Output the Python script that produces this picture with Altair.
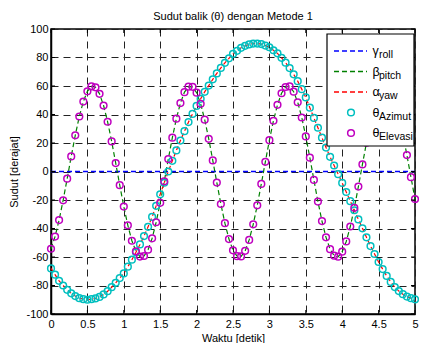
import altair as alt
import pandas as pd

# ---- data ----
t = [0, 0.0556, 0.1111, 0.1667, 0.2222, 0.2778, 0.3333, 0.3889, 0.4444, 0.5,
     0.5556, 0.6111, 0.6667, 0.7222, 0.7778, 0.8333, 0.8889, 0.9444, 1.0,
     1.0556, 1.1111, 1.1667, 1.2222, 1.2778, 1.3333, 1.3889, 1.4444, 1.5,
     1.5556, 1.6111, 1.6667, 1.7222, 1.7778, 1.8333, 1.8889, 1.9444, 2.0,
     2.0556, 2.1111, 2.1667, 2.2222, 2.2778, 2.3333, 2.3889, 2.4444, 2.5,
     2.5556, 2.6111, 2.6667, 2.7222, 2.7778, 2.8333, 2.8889, 2.9444, 3.0,
     3.0556, 3.1111, 3.1667, 3.2222, 3.2778, 3.3333, 3.3889, 3.4444, 3.5,
     3.5556, 3.6111, 3.6667, 3.7222, 3.7778, 3.8333, 3.8889, 3.9444, 4.0,
     4.0556, 4.1111, 4.1667, 4.2222, 4.2778, 4.3333, 4.3889, 4.4444, 4.5,
     4.5556, 4.6111, 4.6667, 4.7222, 4.7778, 4.8333, 4.8889, 4.9444, 5.0]

elevasi = [-54.2, -45.7, -34.1, -20.2, -5.0, 10.6, 25.4, 38.6, 49.1, 56.3,
           59.7, 59.1, 54.5, 46.3, 34.9, 21.1, 5.9, -9.6, -24.6,
           -37.8, -48.6, -56.0, -59.7, -59.3, -54.9, -46.9, -35.6, -22.0,
           -6.9, 8.7, 23.7, 37.1, 48.0, 55.7, 59.5, 59.4, 55.3,
           47.5, 36.4, 22.9, 7.8, -7.8, -22.8, -36.3, -47.4, -55.3,
           -59.4, -59.6, -55.7, -48.0, -37.1, -23.7, -8.7, 6.8, 22.0,
           35.6, 46.8, 54.9, 59.3, 59.7, 56.0, 48.6, 37.9, 24.6,
           9.7, -5.9, -21.1, -34.8, -46.2, -54.5, -59.1, -59.8, -56.3,
           -49.1, -38.6, -25.5, -10.6, 5.0, 20.2, 34.1, 45.6, 54.1,
           59.0, 59.8, 56.7, 49.7, 39.3, 26.3, 11.5, -4.0, -19.3]

azimut = [-68.0, -72.4, -76.7, -80.0, -83.0, -85.5, -87.4, -88.9, -89.6, -90.0,
          -89.6, -89.1, -88.0, -86.3, -84.0, -81.2, -78.1, -74.8, -71.5,
          -66.8, -61.9, -56.7, -51.2, -45.3, -38.8, -31.9, -24.1, -16.0,
          -7.9, 0.0, 7.5, 14.8, 21.7, 28.3, 34.7, 40.4, 46.0,
          51.0, 55.9, 60.3, 64.7, 68.8, 72.7, 76.3, 79.4, 82.5,
          84.7, 86.8, 88.2, 89.2, 89.8, 89.8, 89.4, 88.4, 87.2,
          85.1, 82.9, 79.8, 76.4, 72.6, 68.2, 63.4, 57.8, 52.0,
          44.8, 37.6, 30.7, 23.7, 16.8, 10.3, 4.2, -1.9, -8.0,
          -14.4, -20.8, -27.2, -33.6, -39.9, -46.2, -52.3, -57.9, -63.5,
          -68.5, -73.3, -77.5, -81.1, -83.9, -86.1, -87.8, -88.9, -89.7]

roll = [0.0] * len(t)
pitch = elevasi
yaw = azimut

x_ticks = [0, 0.5, 1, 1.5, 2, 2.5, 3, 3.5, 4, 4.5, 5]
y_ticks = [-100, -80, -60, -40, -20, 0, 20, 40, 60, 80, 100]

legend_main = ["γ", "β", "α", "θ", "θ"]
legend_sub = ["roll", "pitch", "yaw", "Azimut", "Elevasi"]
legend_kind = ["line", "line", "line", "point", "point"]
legend_color = ["#0000FF", "#008000", "#FF0000", "#00BFBF", "#BF00BF"]

FONT = "Liberation Sans"
W, H = 364, 285

df = pd.DataFrame({"t": t, "az": azimut, "el": elevasi,
                   "roll": roll, "pitch": pitch, "yaw": yaw})
dfx = pd.DataFrame({"v": x_ticks})
dfy = pd.DataFrame({"v": y_ticks})

xs = alt.Scale(domain=[0, 5], nice=False, zero=False)
ys = alt.Scale(domain=[-100, 100], nice=False)

common = dict(grid=True, gridDash=[7, 5], gridColor="#222222", gridWidth=1,
              ticks=False, domain=True, domainColor="black", domainWidth=1.5,
              labelFont=FONT, titleFont=FONT, labelFontSize=11, titleFontSize=11,
              labelColor="black", titleColor="black", titleFontWeight="normal",
              labelExpr="'' + datum.value", labelOverlap=False, labelFlush=False)

x_axis = alt.Axis(values=x_ticks, title="Waktu [detik]",
                  labelPadding=4, titlePadding=3, **common)
y_axis = alt.Axis(values=y_ticks, title="Sudut [derajat]",
                  labelPadding=3, titlePadding=6, **common)


def X(field):
    return alt.X(field, type="quantitative", scale=xs, axis=x_axis)


def Y(field):
    return alt.Y(field, type="quantitative", scale=ys, axis=y_axis)


base = alt.Chart(df)

roll_line = base.mark_line(color="#0000FF", strokeDash=[5, 3], strokeWidth=1.5).encode(
    x=X("t"), y=Y("roll"))
pitch_line = base.mark_line(color="#008000", strokeDash=[5, 3], strokeWidth=1.2).encode(
    x=X("t"), y=Y("pitch"))
yaw_line = base.mark_line(color="#FF0000", strokeDash=[4, 3], strokeWidth=1.2).encode(
    x=X("t"), y=Y("yaw"))
az_pts = base.mark_point(shape="circle", filled=False, size=45, strokeWidth=1.5,
                         color="#00BFBF", opacity=1).encode(x=X("t"), y=Y("az"))
el_pts = base.mark_point(shape="circle", filled=False, size=45, strokeWidth=1.5,
                         color="#BF00BF", opacity=1).encode(x=X("t"), y=Y("el"))

# inward ticks (MATLAB style)
tick_layers = [
    alt.Chart(dfx).mark_rule(color="black", strokeWidth=1).encode(
        x=X("v"), y=alt.value(H), y2=alt.value(H - 4)),
    alt.Chart(dfx).mark_rule(color="black", strokeWidth=1).encode(
        x=X("v"), y=alt.value(0), y2=alt.value(4)),
    alt.Chart(dfy).mark_rule(color="black", strokeWidth=1).encode(
        y=Y("v"), x=alt.value(0), x2=alt.value(4)),
    alt.Chart(dfy).mark_rule(color="black", strokeWidth=1).encode(
        y=Y("v"), x=alt.value(W), x2=alt.value(W - 4)),
]

# manual legend with subscripts
one = alt.Data(values=[{"k": 1}])
LX = W - 88
leg_layers = [
    alt.Chart(one).mark_rect(fill="white", stroke="black", strokeWidth=1.2).encode(
        x=alt.value(LX), x2=alt.value(W - 1), y=alt.value(5), y2=alt.value(117))
]
for i in range(5):
    yc = 22 + 20.5 * i
    if legend_kind[i] == "line":
        leg_layers.append(
            alt.Chart(one).mark_rule(color=legend_color[i], strokeDash=[5, 3],
                                     strokeWidth=1.5).encode(
                x=alt.value(LX + 7), x2=alt.value(LX + 40), y=alt.value(yc)))
    else:
        leg_layers.append(
            alt.Chart(one).mark_point(shape="circle", filled=False, size=45,
                                      strokeWidth=1.5, color=legend_color[i],
                                      opacity=1).encode(
                x=alt.value(LX + 24), y=alt.value(yc)))
    leg_layers.append(
        alt.Chart(one).mark_text(text=legend_main[i], align="left", baseline="middle",
                                 fontSize=12.5, font=FONT, color="black").encode(
            x=alt.value(LX + 45.5), y=alt.value(yc)))
    leg_layers.append(
        alt.Chart(one).mark_text(text=legend_sub[i], align="left", baseline="middle",
                                 fontSize=10.5, font=FONT, color="black").encode(
            x=alt.value(LX + 52), y=alt.value(yc + 4)))

chart = alt.layer(
    roll_line, pitch_line, yaw_line, az_pts, el_pts, *tick_layers, *leg_layers
).properties(
    width=W, height=H,
    title=alt.TitleParams("Sudut balik (θ) dengan Metode 1", fontSize=11,
                          fontWeight="normal", font=FONT, color="black",
                          anchor="middle", offset=1),
    autosize=alt.AutoSizeParams(type="none"),
    padding={"left": 43, "top": 21, "right": 4, "bottom": 29},
).configure_view(stroke="black", strokeWidth=1.5)

chart.save("out.html", embed_options={"renderer": "svg", "actions": False})
